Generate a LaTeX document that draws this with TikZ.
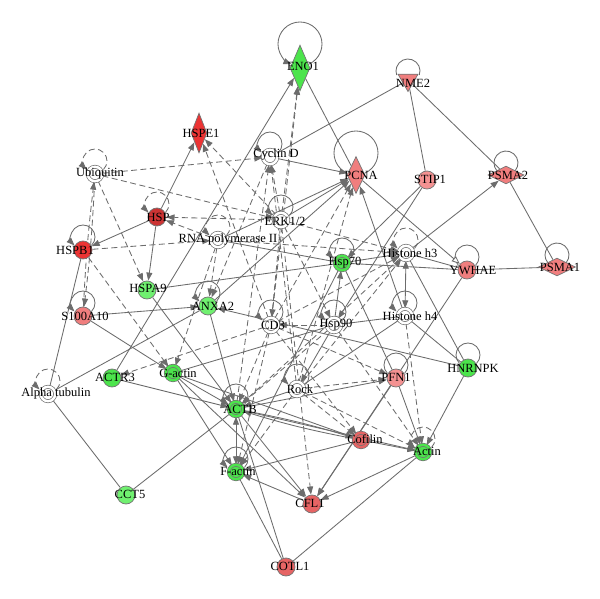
\documentclass[tikz,border=0pt]{standalone}
\usepackage{fontspec}
\setmainfont{Liberation Serif}
\usetikzlibrary{shapes.geometric,arrows.meta,calc}
\pgfdeclarelayer{bglayer}
\pgfdeclarelayer{edgelayer}
\pgfsetlayers{bglayer,edgelayer,main}
\definecolor{ec}{RGB}{108,108,108}
\definecolor{nl}{RGB}{115,115,115}
\definecolor{gG}{RGB}{76,228,76}
\definecolor{gL}{RGB}{112,240,112}
\definecolor{rR}{RGB}{236,52,52}
\definecolor{rD}{RGB}{204,52,52}
\definecolor{pP}{RGB}{240,126,126}
\definecolor{pL}{RGB}{244,146,146}
\definecolor{rM}{RGB}{230,100,100}
\newcommand\labfnt{\fontsize{12.5pt}{13pt}\selectfont}
\newcommand\sloop[5][]{\draw[#1] ($(#2)+(0,#3)+(-#5:#4)$) arc[start angle=-#5,end angle={180+#5},radius=#4];}
\tikzset{
  nbase/.style={draw=nl, line width=0.7pt, inner sep=0pt, outer sep=0.5pt},
  ncirc/.style={nbase, circle, minimum size=18pt, fill=#1},
  ndbl/.style={nbase, circle, minimum size=14.4pt, double distance=2.4pt, double=#1, fill=#1},
  ndbl/.default=white,
  ndia/.style={nbase, diamond, fill=#1},
  ntri/.style={nbase, regular polygon, regular polygon sides=3, shape border rotate=180, minimum size=23pt, fill=#1},
  nlab/.style={font=\labfnt, inner sep=0pt, text=black},
  eN/.style={draw=ec, line width=0.85pt},
  eA/.style={eN, -{Triangle[length=8pt,width=6pt]}},
  eB/.style={eN, {Triangle[length=8pt,width=6pt]}-{Triangle[length=8pt,width=6pt]}},
  eO/.style={eN, -{Triangle[open,length=8pt,width=6.5pt,fill=white]}},
  dA/.style={eA, dash pattern=on 6pt off 3.5pt},
  dN/.style={eN, dash pattern=on 6pt off 3.5pt},
}
\begin{document}
\begin{tikzpicture}[x=1pt,y=1pt]
\useasboundingbox (0,0) rectangle (600,598);
\begin{pgfonlayer}{bglayer}
\fill[white] (0,0) rectangle (600,598);
\end{pgfonlayer}
% nodes
\node[ndia=gG, minimum width=20pt, minimum height=46pt, label={[nlab,xshift=3pt,yshift=2pt]center:ENO1}] (ENO1) at (300,530) {};
\node[ntri=pP, label={[nlab,xshift=5pt,yshift=-3pt]center:NME2}] (NME2) at (408,518) {};
\node[ndia=rR, minimum width=16pt, minimum height=40pt, label={[nlab,xshift=2pt]center:HSPE1}] (HSPE1) at (199,465) {};
\node[ndbl, label={[nlab,xshift=6pt,yshift=2pt]center:Cyclin D}] (CycD) at (270,441) {};
\node[ndbl, label={[nlab,xshift=5pt,yshift=1pt]center:Ubiquitin}] (Ubi) at (95,424) {};
\node[ndia=pP, minimum width=18pt, minimum height=37pt, label={[nlab,xshift=5pt]center:PCNA}] (PCNA) at (356,423) {};
\node[ncirc=pL, label={[nlab,xshift=3pt,yshift=1pt]center:STIP1}] (STIP1) at (427,418) {};
\node[ndia=pP, minimum width=36pt, minimum height=18pt, label={[nlab,xshift=2pt]center:PSMA2}] (PSMA2) at (506,423) {};
\node[ncirc=rD, label={[nlab,xshift=1pt]center:HSP}] (HSP) at (157,381) {};
\node[ndbl, label={[nlab,xshift=4pt,yshift=-1pt]center:ERK1/2}] (ERK) at (281,378) {};
\node[ndbl, label={[nlab,xshift=10pt]center:RNA polymerase II}] (RNAP) at (218,358) {};
\node[ncirc=rR, label={[nlab,xshift=-8pt]center:HSPB1}] (HSPB1) at (83,348) {};
\node[ndbl, label={[nlab,xshift=4pt]center:Histone h3}] (H3) at (406,345) {};
\node[ndbl=gG, label={[nlab,xshift=3pt]center:Hsp70}] (Hsp70) at (342,335) {};
\node[ncirc=pP, label={[nlab,xshift=6pt]center:YWHAE}] (YWHAE) at (467,328) {};
\node[ndia=pP, minimum width=37pt, minimum height=18pt, label={[nlab,xshift=3pt]center:PSMA1}] (PSMA1) at (557,331) {};
\node[ncirc=gL, label={[nlab,xshift=1pt,yshift=2pt]center:HSPA9}] (HSPA9) at (147,308) {};
\node[ncirc=gL, label={[nlab,xshift=5pt]center:ANXA2}] (ANXA2) at (208,292) {};
\node[ncirc=pP, label={[nlab,xshift=2pt]center:S100A10}] (S100A10) at (83,282) {};
\node[ndbl, label={[nlab,xshift=2pt]center:CD3}] (CD3) at (271,273) {};
\node[ndbl, label={[nlab,xshift=2pt]center:Hsp90}] (Hsp90) at (334,273) {};
\node[ndbl, label={[nlab,xshift=5pt]center:Histone h4}] (H4) at (405,282) {};
\node[ncirc=gG, label={[nlab,xshift=5pt]center:HNRNPK}] (HNRNPK) at (468,230) {};
\node[ndbl, label={[nlab,xshift=8pt,yshift=1pt]center:Alpha tubulin}] (Atub) at (48,204) {};
\node[ncirc=gG, label={[nlab,xshift=3pt,yshift=1pt]center:ACTR3}] (ACTR3) at (112,220) {};
\node[ndbl=gG, label={[nlab,xshift=5pt]center:G-actin}] (Gactin) at (173,225) {};
\node[ndbl, label={[nlab,xshift=3pt]center:Rock}] (Rock) at (297,209) {};
\node[ncirc=pL, label={[nlab,yshift=1pt]center:PFN1}] (PFN1) at (396,220) {};
\node[ndbl=gG, label={[nlab,xshift=4pt]center:ACTB}] (ACTB) at (236,189) {};
\node[ndbl=rM, label={[nlab,xshift=4pt,yshift=1pt]center:Cofilin}] (Cofilin) at (361,158) {};
\node[ndbl=gG, label={[nlab,xshift=4pt,yshift=1pt]center:Actin}] (Actin) at (423,146) {};
\node[ndbl=gG, label={[nlab,xshift=2pt,yshift=1pt]center:F-actin}] (Factin) at (236,126) {};
\node[ncirc=rM, label={[nlab,xshift=-2pt,yshift=1pt]center:CFL1}] (CFL1) at (312,94) {};
\node[ncirc=gL, label={[nlab,xshift=4pt,yshift=1pt]center:CCT5}] (CCT5) at (126,103) {};
\node[ncirc=rM, label={[nlab,xshift=4pt,yshift=1pt]center:COTL1}] (COTL1) at (286,31) {};
\begin{pgfonlayer}{edgelayer}
% self loops
\sloop[eA]{ENO1}{24}{22}{67}
\sloop[eN]{NME2}{9}{12}{20}
\sloop[eA]{CycD}{13}{12}{45}
\sloop[dA]{Ubi}{13}{12}{45}
\sloop[eN]{PCNA}{22}{22}{67}
\sloop[eN]{PSMA2}{12}{12}{40}
\sloop[dA]{HSP}{13}{12}{45}
\sloop[eA]{ERK}{13}{12}{45}
\sloop[dA]{RNAP}{13}{12}{45}
\sloop[eA]{HSPB1}{13}{12}{45}
\sloop[dA]{H3}{13}{12}{45}
\sloop[eA]{Hsp70}{13}{12}{45}
\sloop[eN]{YWHAE}{13}{12}{45}
\sloop[eN]{PSMA1}{12}{12}{40}
\sloop[eA]{ANXA2}{13}{12}{45}
\sloop[eA]{S100A10}{13}{12}{45}
\sloop[eA]{CD3}{13}{12}{45}
\sloop[eA]{Hsp90}{13}{12}{45}
\sloop[eA]{H4}{13}{12}{45}
\sloop[eN]{HNRNPK}{13}{12}{45}
\sloop[dA]{Atub}{13}{12}{45}
\sloop[eA]{Rock}{13}{12}{45}
\sloop[eN]{PFN1}{13}{12}{45}
\sloop[eA]{ACTB}{13}{12}{45}
\sloop[dA]{Actin}{13}{12}{45}
\sloop[eA]{Factin}{13}{12}{45}
% solid with arrow
\draw[eA] (ACTR3) -- (ENO1);
\draw[eA] (CycD) -- (PCNA);
\draw[eA] (HSP) -- (HSPE1);
\draw[eA] (HSP) -- (HSPB1);
\draw[eA] (HSP) -- (HSPA9);
\draw[eA] (H3) -- (PSMA2);
\draw[eO] (PCNA) -- (YWHAE);
\draw[eA] (STIP1) -- (Hsp70);
\draw[eA] (STIP1) -- (Hsp90);
\draw[eA] (Hsp90) -- (Hsp70);
\draw[eB] (H3) -- (H4);
\draw[eA] (H4) -- (PCNA);
\draw[eA] (HNRNPK) -- (ANXA2);
\draw[eA] (HNRNPK) -- (Actin);
\draw[eA] (YWHAE) -- (CFL1);
\draw[eA] (PFN1) -- (CFL1);
\draw[eA] (PFN1) -- (Actin);
\draw[eA] (Hsp90) -- (Rock);
\draw[eA] (S100A10) -- (ANXA2);
\draw[eA] (ANXA2) -- (PCNA);
\draw[eA] (ANXA2) -- (ACTB);
\draw[eA] (ACTR3) -- (ACTB);
\draw[eA] (Gactin) -- (ACTB);
\draw[eA] (Gactin) -- (Factin);
\draw[eA] (Gactin) -- (Cofilin);
\draw[eA] (Gactin) -- (CFL1);
\draw[eB] (ACTB) -- (Factin);
\draw[eA] (ACTB) to[bend left=3] (Cofilin);
\draw[eA] (Cofilin) to[bend left=3] (ACTB);
\draw[eA] (ACTB) -- (CFL1);
\draw[eA] (ACTB) -- (Actin);
\draw[eA] (ACTB) -- (PFN1);
\draw[eA] (Cofilin) -- (Factin);
\draw[eA] (CFL1) -- (Factin);
\draw[eA] (Actin) -- (CFL1);
\draw[eA] (Cofilin) -- (Actin);
\draw[eA] (Rock) -- (ACTB);
\draw[eA] (Hsp70) -- (Factin);
\draw[eA] (RNAP) -- (PCNA);
\draw[eA] (ERK) -- (PCNA);
\draw[eA] (Hsp70) -- (H3);
\draw[eA] (HSPA9) -- (ACTB);
\draw[eA] (S100A10) -- (Gactin);
% solid without arrow
\draw[eN] (ENO1) -- (PCNA);
\draw[eN] (NME2) -- (CycD);
\draw[eN] (NME2) -- (STIP1);
\draw[eN] (NME2) -- (PSMA2);
\draw[eN] (PSMA2) -- (PSMA1);
\draw[eN] (YWHAE) -- (PSMA1);
\draw[eN] (Hsp70) -- (YWHAE);
\draw[eN] (H3) -- (YWHAE);
\draw[eN] (HSPA9) -- (Hsp70);
\draw[eN] (Hsp70) -- (PFN1);
\draw[eN] (H3) -- (HNRNPK);
\draw[eN] (H4) -- (HNRNPK);
\draw[eN] (H4) -- (Hsp90);
\draw[eN] (Rock) -- (H4);
\draw[eN] (Hsp90) -- (Gactin);
\draw[eN] (ANXA2) -- (Atub);
\draw[eN] (HSPB1) -- (Atub);
\draw[eN] (Atub) -- (CCT5);
\draw[eN] (CCT5) -- (ACTB);
\draw[eN] (ACTB) -- (COTL1);
\draw[eN] (Factin) -- (COTL1);
\draw[eN] (COTL1) -- (Actin);
\draw[eN] (RNAP) -- (Hsp70);
% dashed
\draw[dA] (Ubi) -- (CycD);
\draw[dA] (Ubi) -- (ERK);
\draw[dA] (Ubi) -- (HSPA9);
\draw[dA] (Ubi) to[bend left=2] (S100A10);
\draw[dA] (S100A10) to[bend left=2] (Ubi);
\draw[dA] (ERK) -- (HSP);
\draw[dA] (RNAP) -- (HSP);
\draw[dA] (HSPB1) -- (RNAP);
\draw[dA] (HSPB1) -- (Gactin);
\draw[dA] (CD3) -- (HSPE1);
\draw[dA] (ERK) -- (HSPE1);
\draw[dA] (ERK) -- (ENO1);
\draw[dA] (CD3) -- (ENO1);
\draw[dA] (ERK) -- (CycD);
\draw[dA] (Rock) -- (CycD);
\draw[dA] (ACTB) -- (CycD);
\draw[dA] (CycD) -- (ANXA2);
\draw[dA] (RNAP) -- (Gactin);
\draw[dA] (RNAP) -- (ANXA2);
\draw[dA] (ERK) -- (CFL1);
\draw[dA] (H3) -- (ACTB);
\draw[dA] (Hsp90) -- (ACTB);
\draw[dA] (Hsp90) -- (CD3);
\draw[dA] (CD3) -- (Cofilin);
\draw[dA] (Rock) -- (Cofilin);
\draw[dA] (Rock) -- (Actin);
\draw[dA] (Hsp90) -- (Actin);
\draw[dA] (H4) -- (Actin);
\draw[dA] (CD3) -- (PFN1);
\draw[dA] (Rock) -- (PFN1);
\draw[dA] (CD3) -- (Factin);
\draw[dA] (Rock) -- (Factin);
\draw[dA] (ERK) -- (H3);
\draw[dA] (RNAP) -- (H3);
\draw[dA] (CD3) -- (H3);
\draw[dA] (Rock) -- (H3);
\draw[dA] (ERK) -- (Hsp90);
\draw[dA] (ERK) -- (CD3);
\draw[dA] (CD3) -- (PCNA);
\draw[dA] (Rock) -- (PCNA);
\draw[dA] (CD3) -- (ACTR3);
\draw[dA] (CD3) -- (ACTB);
\end{pgfonlayer}
\end{tikzpicture}
\end{document}
